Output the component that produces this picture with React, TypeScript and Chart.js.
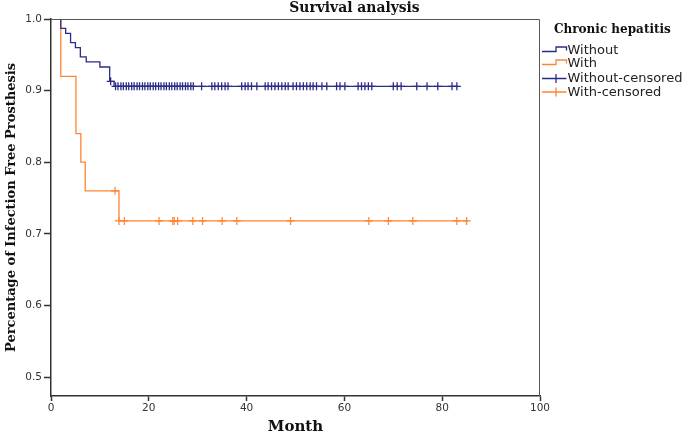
import { useEffect, useRef } from "react";
import { Chart, registerables } from "chart.js";

Chart.register(...registerables);

const chartTitle = "Survival analysis";
const legendTitle = "Chronic hepatitis";
const seriesNames = ["Without", "With"];
const censoredNames = ["Without-censored", "With-censored"];
const xAxisTitle = "Month";
const yAxisTitle = "Percentage of Infection Free Prosthesis";
const xTickValues = [0, 20, 40, 60, 80, 100];
const yTickValues = [0.5, 0.6, 0.7, 0.8, 0.9, 1.0];

// "Without" chronic hepatitis: step times (months) and survival after each step
const withoutTimes = [0, 2, 3, 4, 5, 6, 7.2, 10, 12, 12.9, 83.2];
const withoutSurvival = [1, 0.987, 0.98, 0.967, 0.96, 0.947, 0.94, 0.933, 0.913, 0.906, 0.906];
const withoutCensorTimes = [
  12.2,
  13.2, 13.7, 14.3, 14.8, 15.4, 15.9, 16.5, 17.0, 17.6, 18.1, 18.7, 19.2, 19.8, 20.3, 20.9,
  21.4, 22.0, 22.5, 23.1, 23.6, 24.2, 24.7, 25.3, 25.8, 26.4, 26.9, 27.5, 28.0, 28.6, 29.1,
  30.8, 32.9, 33.5, 34.2, 34.9, 35.6, 36.2,
  39.0, 39.7, 40.3, 41.0, 42.1,
  43.8, 44.4, 45.1, 45.8, 46.5, 47.2, 47.9, 48.5, 49.5, 50.2, 50.9, 51.6, 52.3, 53.0, 53.6,
  54.3, 55.4, 56.4,
  58.4, 59.1, 60.1,
  62.8, 63.5, 64.2, 64.9, 65.6,
  70.0, 70.8, 71.6,
  74.8, 76.9, 79.1,
  82.0, 83.0,
];

// "With" chronic hepatitis
const withTimes = [0, 2, 5.1, 6.1, 7, 13.9, 85.3];
const withSurvival = [1, 0.92, 0.84, 0.8, 0.76, 0.718, 0.718];
const withCensorTimes = [13.1, 13.9, 15, 22.1, 24.9, 25.2, 25.9, 29, 31, 35, 38, 49, 65, 69, 74, 83, 85];

const blue = "#2b2b88";
const orange = "#ff8533";

function survivalAt(times: number[], surv: number[], t: number) {
  let s = surv[0];
  for (let i = 0; i < times.length; i++) {
    if (times[i] <= t + 1e-9) s = surv[i];
  }
  return s;
}

const decorPlugin = {
  id: "decor",
  afterDraw(chart: any) {
    const ctx = chart.ctx as CanvasRenderingContext2D;
    const a = chart.chartArea;
    ctx.save();
    // top & right frame
    ctx.strokeStyle = "#555";
    ctx.lineWidth = 1;
    ctx.beginPath();
    ctx.moveTo(a.left, a.top + 0.5);
    ctx.lineTo(a.right - 0.5, a.top + 0.5);
    ctx.lineTo(a.right - 0.5, a.bottom);
    ctx.stroke();

    // chart title
    ctx.fillStyle = "#111";
    ctx.font = "bold 13.9px 'DejaVu Serif'";
    ctx.textAlign = "center";
    ctx.textBaseline = "middle";
    ctx.fillText(chartTitle, 354.5, 8.5);

    // legend
    ctx.textAlign = "left";
    ctx.font = "bold 12px 'DejaVu Serif'";
    ctx.fillText(legendTitle, 554, 30);

    const x0 = 542;
    const xm = 556;
    const x1 = 566.5;
    const colors = [blue, orange];
    const stepY = [51.5, 64.5];
    ctx.lineWidth = 1.3;
    for (let i = 0; i < 2; i++) {
      const yLow = stepY[i];
      const yHigh = yLow - 4.5;
      ctx.strokeStyle = colors[i];
      ctx.beginPath();
      ctx.moveTo(x0, yLow);
      ctx.lineTo(xm, yLow);
      ctx.lineTo(xm, yHigh);
      ctx.lineTo(x1, yHigh);
      ctx.lineTo(x1, yLow - 1);
      ctx.stroke();
    }
    const crossY = [78.5, 92];
    for (let i = 0; i < 2; i++) {
      ctx.strokeStyle = colors[i];
      ctx.beginPath();
      ctx.moveTo(x0, crossY[i]);
      ctx.lineTo(x1, crossY[i]);
      ctx.moveTo(xm, crossY[i] - 4.5);
      ctx.lineTo(xm, crossY[i] + 4.5);
      ctx.stroke();
    }
    ctx.fillStyle = "#222";
    ctx.font = "13px 'DejaVu Sans'";
    ctx.textBaseline = "middle";
    ctx.fillText(seriesNames[0], 567.5, 50.5);
    ctx.fillText(seriesNames[1], 567.5, 64);
    ctx.fillText(censoredNames[0], 567.5, 79);
    ctx.fillText(censoredNames[1], 567.5, 92.5);
    ctx.restore();
  },
};

export default function App() {
  const ref = useRef<HTMLCanvasElement | null>(null);

  useEffect(() => {
    document.body.style.margin = "0";
    if (!ref.current) return;
    const chart = new Chart(ref.current, {
      type: "line",
      data: {
        datasets: [
          {
            label: seriesNames[0],
            data: withoutTimes.map((t, i) => ({ x: t, y: withoutSurvival[i] })),
            borderColor: blue,
            borderWidth: 1.3,
            stepped: "before",
            pointRadius: 0,
            fill: false,
          },
          {
            label: seriesNames[1],
            data: withTimes.map((t, i) => ({ x: t, y: withSurvival[i] })),
            borderColor: orange,
            borderWidth: 1.3,
            stepped: "before",
            pointRadius: 0,
            fill: false,
          },
          {
            label: censoredNames[0],
            data: withoutCensorTimes.map((t) => ({ x: t, y: survivalAt(withoutTimes, withoutSurvival, t) })),
            showLine: false,
            pointStyle: "cross",
            pointRadius: 4,
            pointBorderWidth: 1.3,
            pointBorderColor: blue,
            borderColor: blue,
          },
          {
            label: censoredNames[1],
            data: withCensorTimes.map((t) => ({ x: t, y: survivalAt(withTimes, withSurvival, t) })),
            showLine: false,
            pointStyle: "cross",
            pointRadius: 4,
            pointBorderWidth: 1.2,
            pointBorderColor: orange,
            borderColor: orange,
          },
        ],
      },
      options: {
        responsive: false,
        animation: false,
        layout: { padding: { top: 19, right: 145, bottom: 0, left: 0 } },
        plugins: {
          legend: { display: false },
          title: { display: false },
          tooltip: { enabled: false },
        },
        scales: {
          x: {
            type: "linear",
            min: 0,
            max: 100,
            afterBuildTicks: (s: any) => {
              s.ticks = xTickValues.map((v) => ({ value: v }));
            },
            afterFit: (s: any) => {
              s.height = 40;
            },
            grid: {
              display: true,
              drawOnChartArea: false,
              drawTicks: true,
              tickLength: 5,
              tickWidth: 1.5,
              tickColor: "#333",
            },
            border: { display: true, color: "#333", width: 1.5 },
            ticks: {
              font: { family: "'DejaVu Sans'", size: 10.5 },
              color: "#333",
              padding: 1,
              maxRotation: 0,
              callback: (v: any) => String(v),
            },
            title: {
              display: true,
              text: xAxisTitle,
              font: { family: "'DejaVu Serif'", size: 15, weight: "bold" },
              color: "#111",
              padding: { top: 0, bottom: 0 },
            },
          },
          y: {
            type: "linear",
            min: 0.4735,
            max: 1.0,
            afterBuildTicks: (s: any) => {
              s.ticks = yTickValues.map((v) => ({ value: v }));
            },
            afterFit: (s: any) => {
              s.width = 51;
            },
            grid: {
              display: true,
              drawOnChartArea: false,
              drawTicks: true,
              tickLength: 7,
              tickWidth: 1.5,
              tickColor: "#333",
            },
            border: { display: true, color: "#333", width: 1.5 },
            ticks: {
              font: { family: "'DejaVu Sans'", size: 10.5 },
              color: "#333",
              padding: 2,
              callback: (v: any) => Number(v).toFixed(1),
            },
            title: {
              display: true,
              text: yAxisTitle,
              font: { family: "'DejaVu Serif'", size: 13, weight: "bold" },
              color: "#111",
              padding: { top: 4, bottom: 0 },
            },
          },
        },
      },
      plugins: [decorPlugin],
    } as any);
    return () => chart.destroy();
  }, []);

  return (
    <div style={{ width: 685, height: 436 }}>
      <canvas ref={ref} width={685} height={436} style={{ display: "block" }} />
    </div>
  );
}
